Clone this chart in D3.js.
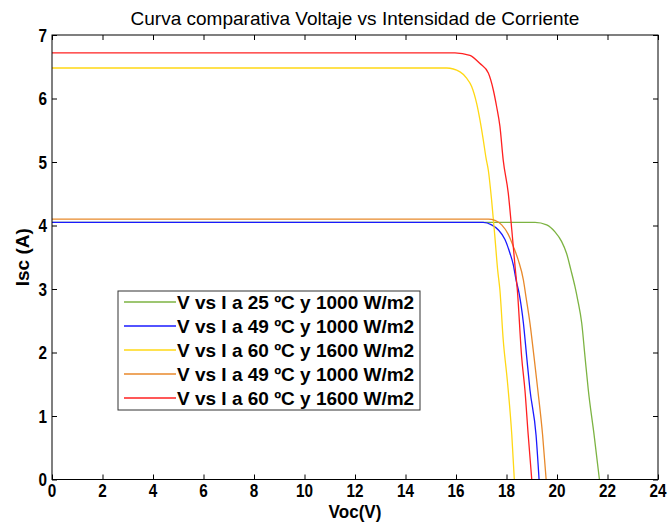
<!DOCTYPE html>
<html>
<head>
<meta charset="utf-8">
<script src="https://cdn.jsdelivr.net/npm/d3@7"></script>
<style>
  html, body { margin: 0; padding: 0; background: #fff; }
  svg { display: block; }
  .tick-label { font-family: "Liberation Sans", Arial, sans-serif; font-weight: bold; font-size: 18px; fill: #000; }
  .title { font-family: "Liberation Sans", Arial, sans-serif; font-size: 19px; fill: #000; }
  .axis-title { font-family: "Liberation Sans", Arial, sans-serif; font-weight: bold; font-size: 19px; fill: #000; }
  .legend-text { font-family: "Liberation Sans", Arial, sans-serif; font-weight: bold; font-size: 19px; fill: #000; }
</style>
</head>
<body>
<svg id="chart" width="670" height="522"></svg>
<script>
// Panel I-V curves: voltage (V) and current (A) samples for each condition
const labels = [
  "V vs I a 25 ºC y 1000 W/m2",
  "V vs I a 49 ºC y 1000 W/m2",
  "V vs I a 60 ºC y 1600 W/m2",
  "V vs I a 49 ºC y 1000 W/m2",
  "V vs I a 60 ºC y 1600 W/m2"
];
const colors = ["#7cb342", "#1a1aff", "#ffd814", "#e8892b", "#ff2020"];

const greenV = [0, 19.13, 19.59, 19.92, 20.18, 20.38, 20.55, 20.71, 20.82, 20.98, 21.11, 21.24, 21.47, 21.68];
const greenI = [4.05, 4.05, 4.01, 3.90, 3.75, 3.56, 3.30, 3.04, 2.83, 2.46, 1.93, 1.41, 0.70, 0];

const blueV = [0, 17.08, 17.41, 17.68, 17.94, 18.14, 18.27, 18.38, 18.50, 18.67, 18.80, 18.93, 19.17, 19.29];
const blueI = [4.05, 4.05, 4.01, 3.93, 3.78, 3.56, 3.38, 3.14, 2.93, 2.46, 1.93, 1.41, 0.70, 0];

const yellowV = [0, 15.63, 16.16, 16.42, 16.62, 16.82, 16.95, 17.08, 17.19, 17.28, 17.41, 17.54, 17.65, 17.74, 17.87, 18.03, 18.21, 18.31];
const yellowI = [6.48, 6.48, 6.42, 6.32, 6.19, 5.92, 5.66, 5.35, 5.06, 4.87, 4.40, 3.82, 3.30, 2.98, 2.20, 1.57, 0.70, 0];

const orangeV = [0, 17.28, 17.54, 17.81, 18.07, 18.27, 18.47, 18.67, 18.77, 18.93, 19.09, 19.24, 19.43, 19.57];
const orangeI = [4.10, 4.10, 4.08, 4.01, 3.86, 3.67, 3.45, 3.14, 2.88, 2.46, 1.93, 1.41, 0.70, 0];

const redV = [0, 15.96, 16.55, 16.95, 17.28, 17.48, 17.61, 17.74, 17.87, 18.07, 18.21, 18.34, 18.43, 18.60, 18.73, 18.86, 19.00];
const redI = [6.72, 6.72, 6.68, 6.55, 6.40, 6.13, 5.87, 5.56, 5.03, 4.51, 3.93, 3.35, 2.98, 1.93, 1.41, 0.70, 0];

const xTicks = [0, 2, 4, 6, 8, 10, 12, 14, 16, 18, 20, 22, 24];
const yTicks = [0, 1, 2, 3, 4, 5, 6, 7];

const seriesV = [greenV, blueV, yellowV, orangeV, redV];
const seriesI = [greenI, blueI, yellowI, orangeI, redI];

const margin = { left: 52, right: 12, top: 35, bottom: 42.5 };
const W = 670, H = 522;
const svg = d3.select("#chart");

const x = d3.scaleLinear().domain([0, 24]).range([margin.left, W - margin.right]);
const y = d3.scaleLinear().domain([0, 7]).range([H - margin.bottom, margin.top]);

const plot = svg.append("g");

// curves, drawn in legend order so later ones sit on top
const line = d3.line().x(d => x(d[0])).y(d => y(d[1])).curve(d3.curveMonotoneX);
seriesV.forEach((vs, k) => {
  const pts = vs.map((v, i) => [v, seriesI[k][i]]);
  plot.append("path")
    .attr("d", line(pts))
    .attr("fill", "none")
    .attr("stroke", colors[k])
    .attr("stroke-width", 1.3);
});

// box with inward ticks on all four sides
const tickLen = 5;
const axisStyle = g => {
  g.select(".domain").remove();
  g.selectAll(".tick line").attr("stroke", "#000");
  g.selectAll(".tick text").remove();
};
svg.append("g").attr("transform", `translate(0,${y(0)})`)
  .call(d3.axisBottom(x).tickValues(xTicks).tickSizeInner(-tickLen).tickSizeOuter(0)).call(axisStyle);
svg.append("g").attr("transform", `translate(0,${y(7)})`)
  .call(d3.axisTop(x).tickValues(xTicks).tickSizeInner(-tickLen).tickSizeOuter(0)).call(axisStyle);
svg.append("g").attr("transform", `translate(${x(0)},0)`)
  .call(d3.axisLeft(y).tickValues(yTicks).tickSizeInner(-tickLen).tickSizeOuter(0)).call(axisStyle);
svg.append("g").attr("transform", `translate(${x(24)},0)`)
  .call(d3.axisRight(y).tickValues(yTicks).tickSizeInner(-tickLen).tickSizeOuter(0)).call(axisStyle);

svg.append("rect")
  .attr("x", x(0)).attr("y", y(7))
  .attr("width", x(24) - x(0)).attr("height", y(0) - y(7))
  .attr("fill", "none").attr("stroke", "#000").attr("stroke-width", 1);

// tick labels, narrowed horizontally
const narrow = 0.85;
svg.append("g").selectAll("text").data(xTicks).join("text")
  .attr("class", "tick-label")
  .attr("transform", d => `translate(${x(d)},${y(0) + 17.5}) scale(${narrow},1)`)
  .attr("text-anchor", "middle")
  .text(d => d);
svg.append("g").selectAll("text").data(yTicks).join("text")
  .attr("class", "tick-label")
  .attr("transform", d => `translate(${x(0) - 5},${y(d) + 6.5}) scale(${narrow},1)`)
  .attr("text-anchor", "end")
  .text(d => d);

// titles
svg.append("text").attr("class", "title")
  .attr("x", (x(0) + x(24)) / 2).attr("y", 25)
  .attr("text-anchor", "middle")
  .text("Curva comparativa Voltaje vs Intensidad de Corriente");
svg.append("text").attr("class", "axis-title")
  .attr("transform", `translate(${(x(0) + x(24)) / 2},517.5) scale(0.95,1)`)
  .attr("text-anchor", "middle")
  .style("font-size", "18px")
  .text("Voc(V)");
svg.append("text").attr("class", "axis-title")
  .attr("transform", `translate(29,${(y(0) + y(7)) / 2}) rotate(-90)`)
  .attr("text-anchor", "middle")
  .text("Isc (A)");

// legend
const lg = svg.append("g").attr("transform", "translate(118,291)");
lg.append("rect").attr("width", 302).attr("height", 119)
  .attr("fill", "#fff").attr("stroke", "#333").attr("stroke-width", 1);
labels.forEach((t, k) => {
  const ry = 11 + k * 24;
  lg.append("line").attr("x1", 6).attr("x2", 58).attr("y1", ry).attr("y2", ry)
    .attr("stroke", colors[k]).attr("stroke-width", 1.3);
  lg.append("text").attr("class", "legend-text")
    .attr("x", 59).attr("y", ry + 6.5).text(t);
});
</script>
</body>
</html>
